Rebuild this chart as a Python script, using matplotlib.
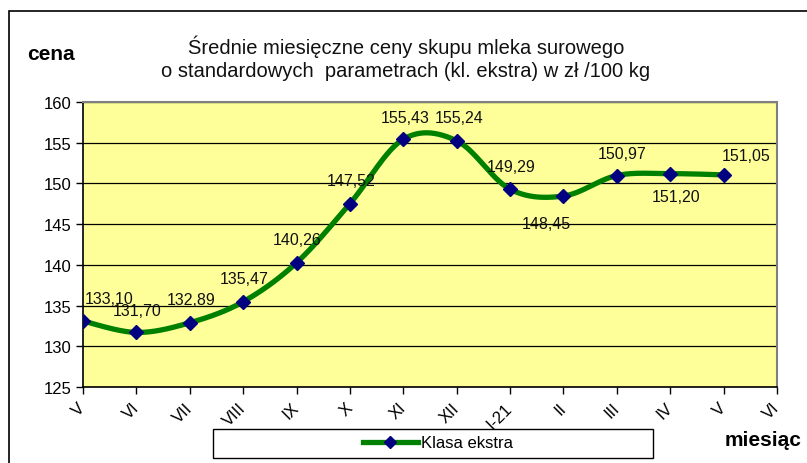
import numpy as np
import matplotlib
matplotlib.use('Agg')
from matplotlib import pyplot as plt
from matplotlib.patches import Rectangle
from matplotlib.lines import Line2D

plt.rcParams['font.family'] = ['Liberation Sans', 'DejaVu Sans']

# data
months = ['V', 'VI', 'VII', 'VIII', 'IX', 'X', 'XI', 'XII', 'I-21', 'II', 'III', 'IV', 'V', 'VI']
prices = [133.10, 131.70, 132.89, 135.47, 140.26, 147.52, 155.43, 155.24,
          149.29, 148.45, 150.97, 151.20, 151.05]
price_labels = ['133,10', '131,70', '132,89', '135,47', '140,26', '147,52', '155,43',
                '155,24', '149,29', '148,45', '150,97', '151,20', '151,05']
# label offsets in pixels (dx, dy)
label_offsets = [(26, 23), (1, 22), (1, 23), (1, 23), (1, 23), (1, 23), (2, 22),
                 (2, 23), (1, 23), (-17, -27), (5, 22), (6, -23), (23, 19)]

title = 'Średnie miesięczne ceny skupu mleka surowego\no standardowych  parametrach (kl. ekstra) w zł /100 kg'


def smooth(x, y, n=30):
    # excel-like smoothed line (catmull-rom bezier)
    x = np.asarray(x, float)
    y = np.asarray(y, float)
    px = np.concatenate([[x[0]], x, [x[-1]]])
    py = np.concatenate([[y[0]], y, [y[-1]]])
    xs, ys = [], []
    t = np.linspace(0, 1, n)
    for i in range(1, len(px) - 2):
        p0 = np.array([px[i], py[i]])
        p3 = np.array([px[i + 1], py[i + 1]])
        p1 = p0 + (np.array([px[i + 1], py[i + 1]]) - np.array([px[i - 1], py[i - 1]])) / 6
        p2 = p3 - (np.array([px[i + 2], py[i + 2]]) - np.array([px[i], py[i]])) / 6
        b = ((1 - t) ** 3)[:, None] * p0 + (3 * (1 - t) ** 2 * t)[:, None] * p1 \
            + (3 * (1 - t) * t ** 2)[:, None] * p2 + (t ** 3)[:, None] * p3
        xs.extend(b[:, 0])
        ys.extend(b[:, 1])
    return xs, ys


fig = plt.figure(figsize=(8.07, 4.64), dpi=100)
fig.patch.set_facecolor('white')

# outer frame
fig.patches.append(Rectangle((9 / 807, -0.1), 1.2, 1.1 - 12 / 464, transform=fig.transFigure,
                             fill=False, edgecolor='black', lw=1.2))

ax = fig.add_axes([83 / 807, 1 - 388 / 464, 694 / 807, 285 / 464])
ax.set_facecolor('#FFFF99')

x = np.arange(len(prices))
sx, sy = smooth(x, prices)
ax.plot(sx, sy, color='#008000', lw=3.8, solid_capstyle='round', zorder=3)
ax.plot(x, prices, linestyle='none', marker='D', color='#000080', markersize=7, zorder=4)

for xi, yi, lab, (dx, dy) in zip(x, prices, price_labels, label_offsets):
    ax.annotate(lab, (xi, yi), xytext=(dx, dy), textcoords='offset pixels',
                ha='center', va='center', fontsize=11.5, color='#111111', zorder=5)

ax.set_xlim(0, len(months) - 1)
ax.set_ylim(125, 160)
ax.set_yticks(np.arange(125, 161, 5))
ax.yaxis.grid(True, color='black', lw=0.9)
ax.set_axisbelow(True)
ax.set_xticks(np.arange(len(months)))
ax.set_xticklabels(months, rotation=45, ha='right', va='center', rotation_mode='anchor')
ax.tick_params(axis='x', length=5, width=1, pad=8, labelsize=12, direction='out')
ax.tick_params(axis='y', length=5, width=1, pad=3, labelsize=12, direction='out')
for s in ['top', 'right']:
    ax.spines[s].set_color('#808080')
    ax.spines[s].set_linewidth(1.5)
for s in ['left', 'bottom']:
    ax.spines[s].set_color('black')
    ax.spines[s].set_linewidth(1.2)

fig.text(406 / 807, 1 - 58 / 464, title, ha='center', va='center', fontsize=14.5,
         linespacing=1.25, color='#111111')
fig.text(27 / 807, 1 - 55 / 464, 'cena', ha='left', va='center', fontsize=15, fontweight='bold')
fig.text(725 / 807, 1 - 441 / 464, 'miesiąc', ha='left', va='center', fontsize=15, fontweight='bold')

# legend box
fig.patches.append(Rectangle((213 / 807, 1 - 459 / 464), 440 / 807, 29 / 464,
                             transform=fig.transFigure, fill=True, facecolor='white',
                             edgecolor='black', lw=1))
handle = Line2D([], [], color='#008000', lw=3.8, marker='D', markersize=6,
                markerfacecolor='#000080', markeredgecolor='#000080')
fig.legend([handle], ['Klasa ekstra'], loc='center', bbox_to_anchor=(438 / 807, 1 - 444 / 464),
           frameon=False, fontsize=12, handlelength=3.3, handletextpad=0.2)

fig.savefig('out.png', dpi=100)
